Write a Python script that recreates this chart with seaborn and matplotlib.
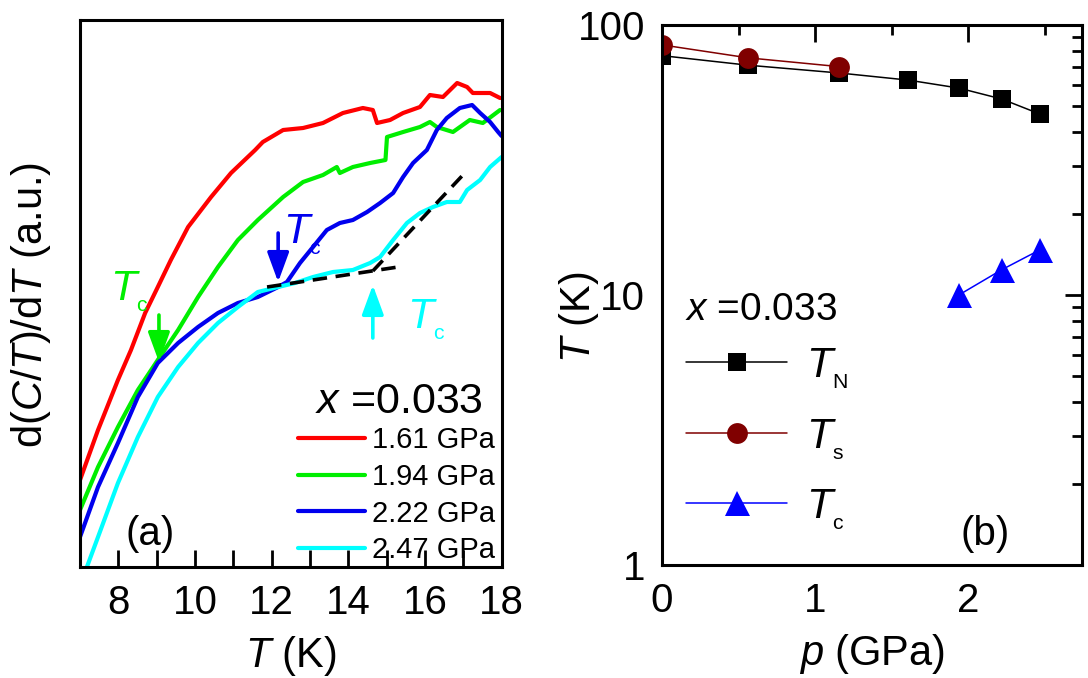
import numpy as np
import pandas as pd
import matplotlib
matplotlib.use("Agg")
import matplotlib.pyplot as plt
from matplotlib import ticker
import seaborn as sns

# (a) d(C/T)/dT vs T (arbitrary units)
t_161 = [7.00, 7.47, 7.99, 8.33, 8.70, 9.03, 9.37, 9.82, 10.42, 10.94, 11.57, 11.77,
         12.30, 12.82, 13.34, 13.86, 14.38, 14.64, 14.75, 15.09, 15.43, 15.87, 16.13,
         16.47, 16.84, 17.10, 17.25, 17.70, 17.96]
dc_161 = [17.4, 27.4, 37.4, 43.4, 50.8, 56.0, 61.4, 68.0, 74.0, 78.8, 83.4, 85.0,
          87.4, 87.8, 88.8, 90.8, 91.8, 91.4, 88.8, 89.4, 90.8, 92.0, 94.4,
          94.0, 96.8, 96.0, 94.8, 94.8, 93.8]

t_194 = [7.00, 7.47, 7.99, 8.51, 9.03, 9.56, 10.08, 10.60, 11.12, 11.64, 12.30, 12.82,
         13.34, 13.70, 13.78, 14.12, 14.57, 14.97, 15.01, 15.43, 15.87, 16.13, 16.31,
         16.73, 17.17, 17.51, 17.96]
dc_194 = [11.4, 20.0, 28.0, 35.4, 41.4, 47.4, 54.0, 60.0, 65.4, 69.4, 74.0, 77.0,
          78.4, 80.0, 78.8, 80.0, 80.8, 81.4, 86.0, 87.0, 88.0, 89.0, 88.0,
          87.0, 89.4, 88.8, 91.4]

t_222 = [7.00, 7.47, 7.99, 8.51, 9.03, 9.56, 10.08, 10.60, 11.12, 11.64, 12.17, 12.40,
         12.74, 13.08, 13.44, 13.78, 14.12, 14.49, 14.83, 15.17, 15.43, 15.69, 16.05,
         16.31, 16.57, 16.91, 17.23, 17.44, 17.70, 17.91, 18.00]
dc_222 = [6.0, 16.0, 24.8, 34.0, 40.8, 44.8, 48.0, 50.8, 52.8, 54.0, 56.0, 57.0,
          60.8, 64.0, 67.4, 68.8, 69.4, 71.0, 72.8, 74.8, 78.0, 80.8, 83.4,
          87.4, 89.8, 91.8, 92.4, 90.8, 89.0, 87.0, 86.2]

t_247 = [7.18, 7.47, 7.99, 8.51, 9.03, 9.56, 10.08, 10.60, 11.12, 11.64, 12.17, 12.61,
         13.08, 13.60, 14.12, 14.57, 14.83, 15.17, 15.53, 15.87, 16.21, 16.57, 16.91,
         17.10, 17.44, 17.70, 17.91, 18.00]
dc_247 = [0.0, 6.0, 16.8, 26.0, 34.0, 40.0, 44.8, 48.8, 52.0, 55.0, 56.0, 56.8,
          58.0, 59.0, 59.4, 60.8, 62.0, 65.4, 68.8, 70.8, 72.0, 73.0, 73.0,
          75.4, 77.4, 80.0, 81.4, 82.0]

pressures = ["1.61 GPa", "1.94 GPa", "2.22 GPa", "2.47 GPa"]
curve_colors = ["#ff0000", "#00ee00", "#0000ee", "#00ffff"]

# guide lines and Tc markers in panel (a)
dash1_t, dash1_y = [11.88, 15.30], [56.0, 60.0]
dash2_t, dash2_y = [14.64, 17.04], [59.2, 78.8]
tc_arrow_t = [9.06, 12.17, 14.64]
tc_arrow_from = [50.4, 66.8, 45.8]
tc_arrow_to = [41.0, 57.0, 56.4]
tc_label_t = [7.78, 12.30, 15.53]
tc_label_y = [53.4, 64.8, 47.8]

# (b) phase diagram
p_N = [0.0, 0.56, 1.16, 1.61, 1.94, 2.22, 2.47]
T_N = [77.0, 71.0, 66.4, 62.5, 58.4, 53.2, 46.8]
p_s = [0.0, 0.56, 1.16]
T_s = [84.4, 75.6, 70.1]
p_c = [1.94, 2.22, 2.47]
T_c = [10.0, 12.4, 14.7]

sns.set_style("white")
plt.rcParams["font.family"] = ["Liberation Sans", "DejaVu Sans"]
plt.rcParams["mathtext.fontset"] = "custom"
plt.rcParams["mathtext.rm"] = "Liberation Sans"
plt.rcParams["mathtext.it"] = "Liberation Sans:italic"
plt.rcParams["mathtext.bf"] = "Liberation Sans:bold"
for key in ("text.color", "axes.labelcolor", "xtick.color", "ytick.color", "axes.edgecolor"):
    plt.rcParams[key] = "black"

fig = plt.figure(figsize=(10.88, 6.78), dpi=100)
ax1 = fig.add_axes([80 / 1088, 1 - 567 / 678, 421.6 / 1088, 547 / 678])
ax2 = fig.add_axes([662 / 1088, 1 - 565 / 678, 420 / 1088, 540 / 678])

# panel (a)
frames = []
for lab, t, d in zip(pressures, [t_161, t_194, t_222, t_247], [dc_161, dc_194, dc_222, dc_247]):
    frames.append(pd.DataFrame({"T": t, "dC": d, "p": lab}))
df = pd.concat(frames, ignore_index=True)
sns.lineplot(data=df, x="T", y="dC", hue="p", palette=curve_colors, sort=False,
             estimator=None, lw=3, legend=False, ax=ax1)
curve_lines = ax1.get_lines()[:4]

ax1.plot(dash1_t, dash1_y, color="k", lw=2.6, dashes=(4, 2.4))
ax1.plot(dash2_t, dash2_y, color="k", lw=2.6, dashes=(4, 2.4))

sub_c = r"$T_{{}_{\rm c}}$"
tc_colors = ["#00ee00", "#0000ee", "#00ffff"]
for t, y0, y1, lt, ly, c in zip(tc_arrow_t, tc_arrow_from, tc_arrow_to,
                                tc_label_t, tc_label_y, tc_colors):
    ax1.annotate("", xy=(t, y1), xytext=(t, y0),
                 arrowprops=dict(arrowstyle="-|>,head_length=0.9,head_width=0.33",
                                 lw=2.6, color=c, mutation_scale=20,
                                 shrinkA=0, shrinkB=0))
    ax1.text(lt, ly, sub_c, color=c, fontsize=31, ha="left", va="baseline")

ax1.set_xlim(7, 18)
ax1.set_ylim(0, 109.4)
ax1.set_yticks([])
ax1.xaxis.set_major_locator(ticker.MultipleLocator(2))
ax1.xaxis.set_minor_locator(ticker.MultipleLocator(1))
ax1.tick_params(axis="x", which="both", direction="in", length=12, width=2,
                top=False, bottom=True, labelsize=29, pad=12)
ax1.set_xlabel(r"$T$ (K)", fontsize=30, labelpad=9)
ax1.set_ylabel(r"d($C$/$T$)/d$T$ (a.u.)", fontsize=30)
ax1.yaxis.set_label_coords(-0.064, 0.48)

ax1.legend(curve_lines, pressures, loc="lower right", bbox_to_anchor=(0.985, 0.005),
           frameon=False, fontsize=21, handlelength=2.3, handletextpad=0.25,
           labelspacing=0.3, borderpad=0, borderaxespad=0)
ax1.text(0.955, 0.282, r"$x$ =0.033", transform=ax1.transAxes, fontsize=31,
         ha="right", va="baseline")
ax1.text(0.107, 0.04, "(a)", transform=ax1.transAxes, fontsize=29, va="baseline")

# panel (b)
sns.lineplot(x=p_N, y=T_N, color="k", lw=1.1, marker="s", markersize=13,
             markeredgecolor="k", markeredgewidth=0, label=r"$T_{{}_{\rm N}}$", ax=ax2)
sns.lineplot(x=p_s, y=T_s, color="#800000", lw=1.1, marker="o", markersize=15,
             markeredgecolor="#800000", markeredgewidth=0, label=r"$T_{{}_{\rm s}}$", ax=ax2)
sns.lineplot(x=p_c, y=T_c, color="#0000ff", lw=1.1, marker="^", markersize=18,
             markeredgecolor="#0000ff", markeredgewidth=0, label=sub_c, ax=ax2)

ax2.set_yscale("log")
ax2.set_ylim(1, 100)
ax2.set_xlim(0, 2.745)
ax2.set_yticks([1, 10, 100], ["1", "10", "100"])
ax2.yaxis.set_minor_locator(ticker.LogLocator(base=10, subs=np.arange(2, 10)))
ax2.yaxis.set_minor_formatter(ticker.NullFormatter())
ax2.set_xticks([0, 1, 2])
ax2.xaxis.set_minor_locator(ticker.MultipleLocator(0.5))
ax2.tick_params(which="both", direction="in", top=True, right=True, width=2,
                labelsize=29)
ax2.tick_params(which="major", length=12, pad=12)
ax2.tick_params(which="minor", length=7)
ax2.set_xlabel(r"$p$ (GPa)", fontsize=30, labelpad=9)
ax2.set_ylabel(r"$T$ (K)", fontsize=30)
ax2.yaxis.set_label_coords(-0.145, 0.46)

ax2.legend(loc="upper left", bbox_to_anchor=(0.057, 0.405), frameon=False,
           fontsize=31, handlelength=2.35, handletextpad=0.45, labelspacing=0.6,
           borderpad=0, borderaxespad=0)
ax2.text(0.055, 0.454, r"$x$ =0.033", transform=ax2.transAxes, fontsize=28,
         ha="left", va="baseline")
ax2.text(0.71, 0.037, "(b)", transform=ax2.transAxes, fontsize=29, va="baseline")

for ax in (ax1, ax2):
    for s in ax.spines.values():
        s.set_linewidth(2.2)
        s.set_color("k")

fig.savefig("out.png", dpi=100)
